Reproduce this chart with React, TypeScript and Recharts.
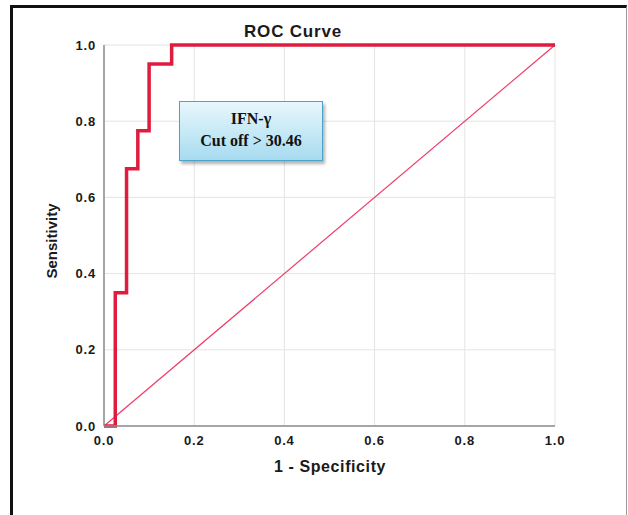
import { LineChart, Line, XAxis, YAxis, CartesianGrid } from 'recharts'

// ROC operating points (1 - specificity, sensitivity)
const fpr = [0, 0.025, 0.05, 0.075, 0.1, 0.15, 1]
const tpr = [0, 0.35, 0.675, 0.775, 0.95, 1, 1]

// reference (chance) line
const refX = [0, 1]
const refY = [0, 1]

const ticks = [0, 0.2, 0.4, 0.6, 0.8, 1]

const rocData = fpr.map((x, i) => ({ x, y: tpr[i] }))
const refData = refX.map((x, i) => ({ x, y: refY[i] }))

const sans = '"Liberation Sans", Arial, sans-serif'
const tickStyle = { fill: '#1a1a1a', fontSize: 13, fontWeight: 700, fontFamily: sans, letterSpacing: 0.8 }
const fmt = (v: number) => v.toFixed(1)

export default function App() {
  return (
    <div style={{ position: 'fixed', left: 0, top: 0, width: 628, height: 515, overflow: 'hidden', background: '#fff' }}>
      {/* outer frame */}
      <div
        style={{
          position: 'absolute',
          left: 10,
          top: 5,
          width: 617,
          height: 530,
          boxSizing: 'border-box',
          borderTop: '3px solid #111',
          borderLeft: '3px solid #111',
          borderRight: '1px solid #999',
        }}
      />
      <div style={{ position: 'absolute', left: 0, top: 0 }}>
        <LineChart width={628} height={515} margin={{ top: 45, right: 73, left: 66, bottom: 59 }}>
          <CartesianGrid stroke="#e4e4e4" strokeWidth={1} />
          <XAxis
            dataKey="x"
            type="number"
            domain={[0, 1]}
            ticks={ticks}
            tickFormatter={fmt}
            tick={{ ...tickStyle, dy: 2 }}
            tickLine={false}
            axisLine={{ stroke: '#8c8c8c', strokeWidth: 1.5 }}
            height={30}
            allowDuplicatedCategory={false}
          />
          <YAxis
            type="number"
            domain={[0, 1]}
            ticks={ticks}
            tickFormatter={fmt}
            tick={tickStyle}
            tickLine={false}
            axisLine={{ stroke: '#8c8c8c', strokeWidth: 1.5 }}
            width={38}
          />
          <Line
            data={refData}
            dataKey="y"
            type="linear"
            stroke="#ee3d66"
            strokeWidth={1.2}
            dot={false}
            activeDot={false}
            isAnimationActive={false}
          />
          <Line
            data={rocData}
            dataKey="y"
            type="stepAfter"
            stroke="#df1c3e"
            strokeWidth={3.5}
            dot={false}
            activeDot={false}
            isAnimationActive={false}
          />
        </LineChart>
      </div>

      <div
        style={{
          position: 'absolute',
          left: 193,
          top: 22,
          width: 200,
          lineHeight: '20px',
          textAlign: 'center',
          font: `700 17px ${sans}`,
          letterSpacing: 0.8,
          color: '#1a1a1a',
        }}
      >
        ROC Curve
      </div>

      <div
        style={{
          position: 'absolute',
          left: 230,
          top: 458,
          width: 200,
          lineHeight: '20px',
          textAlign: 'center',
          font: `700 16px ${sans}`,
          letterSpacing: 0.6,
          color: '#1a1a1a',
        }}
      >
        1 - Specificity
      </div>

      <div
        style={{
          position: 'absolute',
          left: 53 - 60,
          top: 241 - 10,
          width: 120,
          height: 20,
          lineHeight: '20px',
          textAlign: 'center',
          transform: 'rotate(-90deg)',
          font: `700 15px ${sans}`,
          color: '#1a1a1a',
        }}
      >
        Sensitivity
      </div>

      {/* cut-off callout */}
      <div
        style={{
          position: 'absolute',
          left: 179,
          top: 101,
          width: 142,
          height: 52,
          border: '1.5px solid #4aa3c8',
          background: 'linear-gradient(#e8f7fd, #a7dbef)',
          boxShadow: '2px 3px 3px rgba(0,0,0,0.3)',
          textAlign: 'center',
          font: '700 16px "Liberation Serif", "Times New Roman", serif',
          color: '#111',
          lineHeight: '22px',
          paddingTop: 6,
          boxSizing: 'content-box',
        }}
      >
        <div>IFN-γ</div>
        <div>Cut off &gt; 30.46</div>
      </div>
    </div>
  )
}
